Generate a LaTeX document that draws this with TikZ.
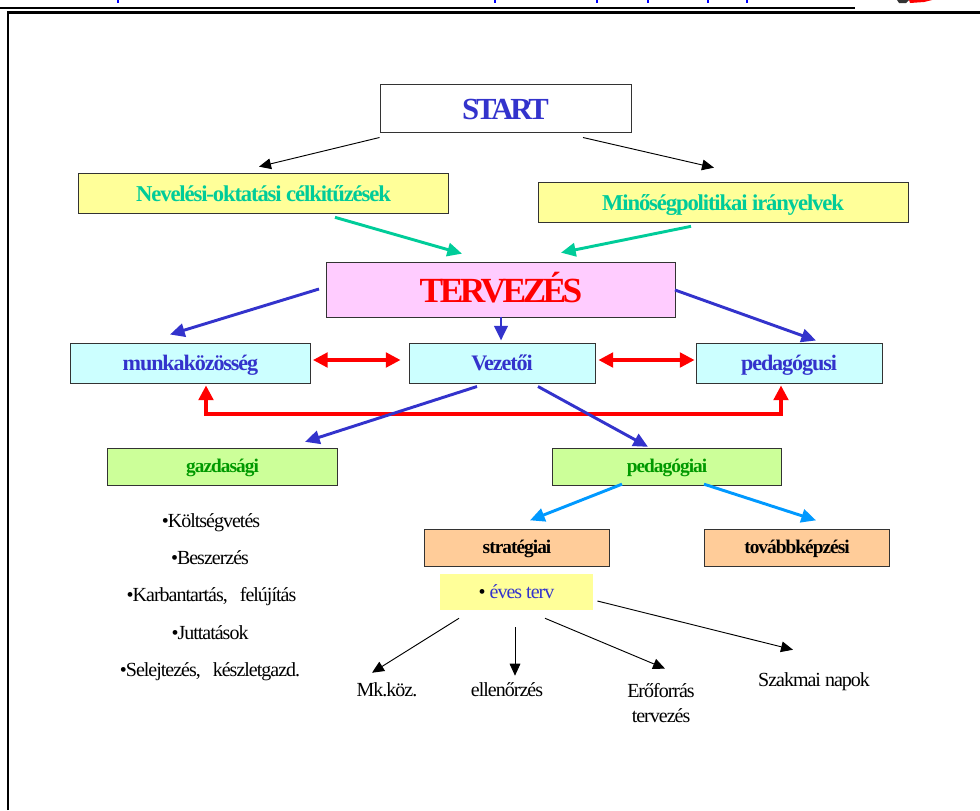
\documentclass[tikz,border=0pt]{standalone}
\usepackage{fontspec}
\setmainfont{Liberation Serif}
\newfontfamily\tightfont[LetterSpace=-5]{Liberation Serif}
\newfontfamily\tighterfont[LetterSpace=-10]{Liberation Serif}
\definecolor{startblue}{RGB}{51,51,204}
\definecolor{tealgreen}{RGB}{0,204,153}
\definecolor{skyblue}{RGB}{0,153,255}
\definecolor{leafgreen}{RGB}{0,153,0}
\definecolor{paleyellow}{RGB}{255,255,153}
\definecolor{palepink}{RGB}{255,204,255}
\definecolor{palecyan}{RGB}{204,255,255}
\definecolor{palegreen}{RGB}{204,255,153}
\definecolor{paleorange}{RGB}{255,204,153}
\usetikzlibrary{arrows.meta}
\tikzset{
  box/.style={draw=black!80,line width=0.75pt,inner sep=0pt,text depth=0pt},
  startbox/.style={box,fill=white,minimum width=188.25pt,minimum height=36pt,text=startblue,text height=17pt,font=\tighterfont\bfseries\fontsize{23}{26}\selectfont},
  aimbox/.style={box,fill=paleyellow,minimum width=277.5pt,minimum height=30.5pt,text=tealgreen,text height=12pt,font=\tightfont\bfseries\fontsize{17}{20}\selectfont},
  planbox/.style={box,fill=palepink,minimum width=261.75pt,minimum height=41pt,text=red,text height=18pt,font=\tighterfont\bfseries\fontsize{26.5}{32}\selectfont},
  rolebox/.style={box,fill=palecyan,minimum height=30pt,text=startblue,text height=11pt,font=\tightfont\bfseries\fontsize{16.6}{20}\selectfont},
  areabox/.style={box,fill=palegreen,minimum width=172pt,minimum height=28pt,text=leafgreen,text height=8.5pt,font=\tightfont\bfseries\fontsize{14.5}{17}\selectfont},
  kindbox/.style={box,fill=paleorange,minimum width=139pt,minimum height=28pt,text height=8.5pt,font=\tightfont\bfseries\fontsize{14.5}{17}\selectfont},
  plain/.style={inner sep=0pt,text height=9pt,text depth=0pt,font=\tightfont\fontsize{15}{18}\selectfont},
  thinarr/.style={-{Triangle[length=9pt,width=8pt]},line width=0.7pt},
  bluearr/.style={-{Triangle[length=11pt,width=10pt]},line width=2.2pt,color=startblue},
  tealarr/.style={-{Triangle[length=11pt,width=10pt]},line width=2.2pt,color=tealgreen},
  skyarr/.style={-{Triangle[length=11pt,width=10pt]},line width=2.2pt,color=skyblue},
  redarr/.style={{Triangle[length=11pt,width=11pt]}-{Triangle[length=11pt,width=11pt]},line width=2.4pt,color=red}
}
\begin{document}
\begin{tikzpicture}[x=0.75pt,y=-0.75pt]
\useasboundingbox (0,0) rectangle (980,810);
% page frame and what is left of the page header
\draw[line width=1.7pt] (0,8) -- (855,8);
\draw[line width=1.7pt] (8,810) -- (8,12.5) -- (980,12.5);
\foreach \xtick in {118,495,597,648,708,747}
  \draw[blue,line width=1pt] (\xtick,0) -- (\xtick,3);
\fill[black!80] (897,0) -- (909,0) -- (906,3) -- (899,3) -- cycle;
\fill[red] (909,0) -- (932,0) -- (924,2) -- (910,3) -- cycle;
% boxes
\node[startbox] (start) at (505.5,108) {START};
\node[aimbox] (celok) at (263.5,193.5) {Nevelési-oktatási célkitűzések};
\node[aimbox] (minoseg) at (723,202.5) {Minőségpolitikai irányelvek};
\node[planbox] (terv) at (501,290) {TERVEZÉS};
\node[rolebox,minimum width=180pt] (munka) at (190.5,363) {munkaközösség};
\node[rolebox,minimum width=139.5pt] (vezetoi) at (502,363) {Vezetői};
\node[rolebox,minimum width=139.5pt] (pedag) at (789,363) {pedagógusi};
\node[areabox] (gazd) at (222.5,467) {gazdasági};
\node[areabox] (pedagogiai) at (667,467) {pedagógiai};
\node[kindbox] (strat) at (517,548) {stratégiai};
\node[kindbox] (tovabb) at (797,548) {továbbképzési};
\node[plain,fill=paleyellow,minimum width=115pt,minimum height=27pt] (eves) at (516.5,592) {• \textcolor{startblue}{éves terv}};
% lists
\node[plain] (koltseg) at (211,521) {•Költségvetés};
\node[plain] (beszer) at (210,558) {•Beszerzés};
\node[plain] (karb) at (211.5,595) {•Karbantartás,\ \ \ felújítás};
\node[plain] (jutt) at (210,633) {•Juttatások};
\node[plain] (selej) at (210,670) {•Selejtezés,\ \ \ készletgazd.};
% bottom row
\node[plain] (mk) at (387,690) {Mk.köz.};
\node[plain] (ell) at (507,690) {ellenőrzés};
\node[plain,text height=,text depth=,align=center,font=\tightfont\fontsize{15}{18.75}\selectfont] (ero) at (661,703) {Erőforrás\\tervezés};
\node[plain] (szak) at (814,680) {Szakmai napok};
\coordinate (redrail) at (500,414);
% arrows
\draw[thinarr] ([shift={(0,5)}]start.south west) -- ([shift={(-4.5,-6)}]celok.north);
\draw[thinarr] ([shift={(77.5,5)}]start.south) -- ([shift={(-9,-14)}]minoseg.north);
\draw[tealarr] ([shift={(71.5,3)}]celok.south) -- ([shift={(-39,-8.5)}]terv.north);
\draw[tealarr] ([shift={(-32,3)}]minoseg.south) -- ([shift={(60,-9.5)}]terv.north);
\draw[bluearr] ([shift={(-7,-1)}]terv.west) -- ([shift={(-20.5,-8)}]munka.north);
\draw[bluearr] ([shift={(0,-1)}]terv.south) -- ([shift={(-1,-2)}]vezetoi.north);
\draw[bluearr] ([shift={(-1,0)}]terv.east) -- ([shift={(27,-2)}]pedag.north);
\draw[redarr] ([shift={(2,-3)}]munka.east) -- ([shift={(-8,-3)}]vezetoi.west);
\draw[redarr] ([shift={(3,-3)}]vezetoi.east) -- ([shift={(-1,-3)}]pedag.west);
\draw[redarr] ([shift={(15.5,2)}]munka.south) |- (redrail) -| ([shift={(-8,2)}]pedag.south);
\draw[bluearr] ([shift={(-25,3)}]vezetoi.south) -- ([shift={(82.5,-6)}]gazd.north);
\draw[bluearr] ([shift={(36,3)}]vezetoi.south) -- ([shift={(-19,-1)}]pedagogiai.north);
\draw[skyarr] ([shift={(-45,-2)}]pedagogiai.south) -- ([shift={(13,-8.5)}]strat.north);
\draw[skyarr] ([shift={(37,-2)}]pedagogiai.south) -- ([shift={(19,-8.5)}]tovabb.north);
\draw[thinarr] ([shift={(-57.5,8)}]eves.south) -- ([shift={(-15,-11)}]mk.north);
\draw[thinarr] ([shift={(-1.5,17)}]eves.south) -- ([shift={(8,-8)}]ell.north);
\draw[thinarr] ([shift={(28.5,8)}]eves.south) -- ([shift={(4,-14.5)}]ero.north);
\draw[thinarr] ([shift={(4,9)}]eves.east) -- ([shift={(-21,-24)}]szak.north);
\end{tikzpicture}
\end{document}
